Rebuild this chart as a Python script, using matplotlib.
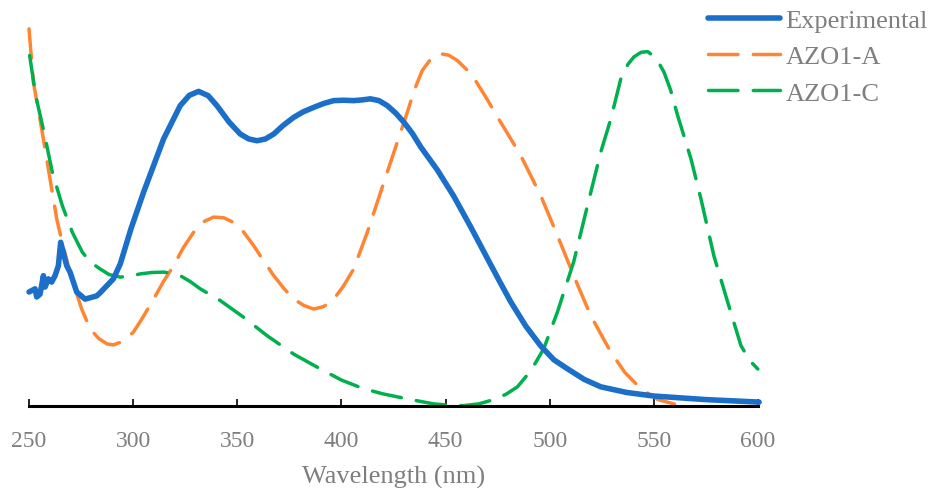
"""
UV-vis absorption: experimental spectrum vs. computed AZO1-A / AZO1-C bands.
Values are normalised absorbance read off the original figure.
"""

import matplotlib
matplotlib.use("Agg")
import matplotlib.pyplot as plt

# Experimental spectrum (nm, normalised absorbance)
exp_nm = [250.0, 251.3, 252.9, 253.7, 255.3, 256.9, 257.7, 259.3, 260.9, 262.5,
          264.1, 265.2, 268.1, 269.7, 272.9, 276.9, 282.5, 284.0, 290.5, 293.8,
          299.0, 305.0, 314.6, 322.6, 327.0, 331.4, 336.0, 340.2, 346.0, 351.4,
          355.5, 359.5, 363.5, 367.5, 372.0, 377.1, 381.5, 386.7, 391.5, 396.3,
          401.0, 405.9, 410.0, 413.9, 418.0, 422.0, 426.0, 430.0, 434.0, 438.0,
          446.0, 453.8, 462.0, 470.2, 476.0, 481.3, 488.5, 495.7, 502.0, 508.7,
          516.5, 524.5, 537.0, 550.0, 575.0, 600.5]
exp_abs = [0.321, 0.325, 0.330, 0.307, 0.315, 0.367, 0.335, 0.358, 0.349, 0.367,
           0.395, 0.461, 0.395, 0.377, 0.321, 0.301, 0.310, 0.318, 0.358, 0.400,
           0.500, 0.602, 0.752, 0.846, 0.875, 0.886, 0.874, 0.846, 0.800, 0.766,
           0.752, 0.747, 0.752, 0.766, 0.790, 0.813, 0.828, 0.841, 0.852, 0.860,
           0.861, 0.860, 0.862, 0.865, 0.860, 0.846, 0.825, 0.799, 0.768, 0.730,
           0.665, 0.592, 0.505, 0.414, 0.350, 0.293, 0.225, 0.169, 0.130, 0.104,
           0.075, 0.054, 0.038, 0.028, 0.018, 0.011]

# Computed AZO1-A band
azo_a_nm = [250.0, 252.1, 256.1, 260.1, 263.3, 265.7, 270.5, 275.3, 279.3, 283.5,
            287.4, 290.5, 295.0, 300.1, 304.5, 309.8, 314.5, 319.4, 324.0, 329.0,
            333.5, 338.6, 343.5, 348.2, 353.0, 357.8, 362.5, 367.5, 372.5, 377.1,
            382.0, 386.7, 391.5, 396.3, 401.0, 405.9, 412.4, 418.8, 425.2, 431.6,
            435.0, 438.8, 443.0, 447.6, 451.5, 455.6, 460.0, 464.4, 469.5, 474.9,
            480.5, 486.1, 495.7, 503.7, 511.5, 519.7, 529.3, 536.0, 543.8, 552.0,
            561.4]
azo_a_abs = [1.062, 0.912, 0.780, 0.639, 0.527, 0.466, 0.358, 0.273, 0.217, 0.190,
             0.175, 0.172, 0.182, 0.208, 0.248, 0.301, 0.350, 0.395, 0.445, 0.489,
             0.518, 0.532, 0.530, 0.517, 0.490, 0.452, 0.410, 0.367, 0.330, 0.301,
             0.283, 0.273, 0.280, 0.301, 0.338, 0.386, 0.489, 0.602, 0.715, 0.827,
             0.890, 0.945, 0.978, 0.992, 0.988, 0.973, 0.948, 0.916, 0.868, 0.814,
             0.760, 0.705, 0.592, 0.480, 0.367, 0.254, 0.152, 0.095, 0.048, 0.018,
             0.003]

# Computed AZO1-C band
azo_c_nm = [250.3, 253.2, 257.2, 261.2, 266.0, 270.8, 275.6, 279.5, 284.1, 288.5,
            293.8, 298.5, 303.4, 309.0, 314.6, 318.5, 322.6, 327.5, 332.2, 341.8,
            353.0, 364.3, 377.1, 390.0, 400.0, 410.0, 420.0, 431.6, 444.2, 452.0,
            458.7, 466.0, 473.1, 479.0, 484.5, 491.0, 497.1, 503.7, 511.5, 518.1,
            524.5, 529.3, 534.1, 537.5, 540.4, 543.8, 547.0, 551.0, 554.8, 558.0,
            561.4, 567.8, 572.6, 578.8, 585.4, 591.8, 596.0, 599.9]
azo_c_abs = [0.987, 0.874, 0.771, 0.658, 0.564, 0.489, 0.433, 0.405, 0.386, 0.370,
             0.363, 0.366, 0.372, 0.376, 0.377, 0.374, 0.367, 0.350, 0.330, 0.297,
             0.250, 0.198, 0.146, 0.104, 0.073, 0.050, 0.034, 0.020, 0.006, 0.002,
             0.001, 0.006, 0.018, 0.033, 0.054, 0.100, 0.161, 0.265, 0.406, 0.564,
             0.715, 0.808, 0.921, 0.962, 0.983, 0.996, 0.998, 0.980, 0.941, 0.890,
             0.818, 0.696, 0.583, 0.423, 0.293, 0.170, 0.128, 0.104]

BLUE = "#1B6FC8"
ORANGE = "#FF8533"
GREEN = "#00B04F"
GRAY = "#7F7F7F"

plt.rcParams["font.family"] = ["Liberation Serif", "DejaVu Serif"]

fig = plt.figure(figsize=(9.3, 4.89), dpi=100)
ax = fig.add_axes([0.0312, 0.1677, 0.7839, 0.777])

ax.plot(exp_nm, exp_abs, color=BLUE, linewidth=4.0, solid_capstyle="round",
        solid_joinstyle="round", label="Experimental", clip_on=False, zorder=3)
ax.plot(azo_a_nm, azo_a_abs, color=ORANGE, linewidth=2.5, linestyle=(0, (8.5, 4.4)),
        dash_capstyle="round", label="AZO1-A", clip_on=False, zorder=2)
ax.plot(azo_c_nm, azo_c_abs, color=GREEN, linewidth=2.5, linestyle=(0, (8.5, 4.4)),
        dash_capstyle="round", label="AZO1-C", clip_on=False, zorder=2)

ax.set_xlim(250, 600)
ax.set_ylim(0, 1.07)
ax.set_xticks([250, 300, 350, 400, 450, 500, 550, 600])

for side in ["top", "right", "left"]:
    ax.spines[side].set_visible(False)
ax.spines["bottom"].set_linewidth(2.2)
ax.spines["bottom"].set_color("black")
ax.set_yticks([])
ax.tick_params(axis="x", direction="in", length=5, width=1.2, color="black",
               labelsize=17, labelcolor=GRAY, pad=17)

ax.set_xlabel("Wavelength (nm)", fontsize=19, color=GRAY, labelpad=10)

ax.legend(loc="upper left", bbox_to_anchor=(0.761, 0.98), bbox_transform=fig.transFigure,
          frameon=False, fontsize=19, labelcolor=GRAY, handlelength=2.75,
          handletextpad=0.2, labelspacing=0.48, borderpad=0.0, borderaxespad=0.0)

fig.savefig("out.png", dpi=100)
print("Saved: out.png")
